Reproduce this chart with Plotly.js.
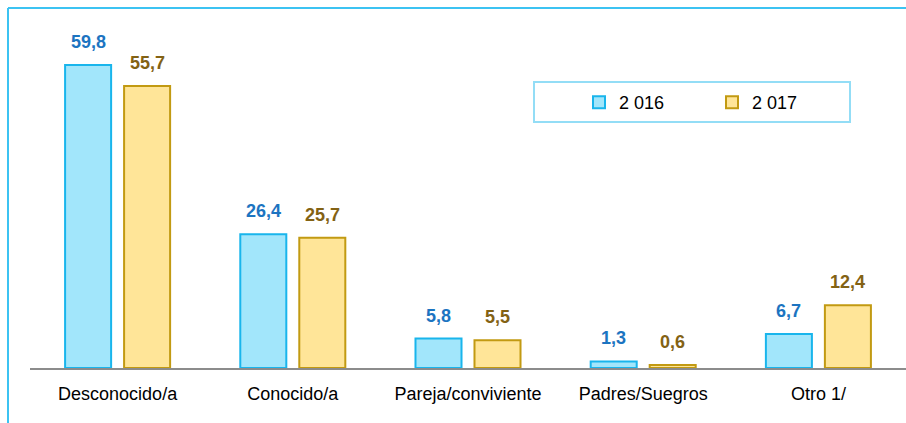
<!DOCTYPE html>
<html>
<head>
<meta charset="utf-8">
<script src="https://cdn.plot.ly/plotly-3.0.1.min.js"></script>
<style>html,body{margin:0;padding:0;background:#fff;}#chart{width:906px;height:423px;}</style>
</head>
<body>
<div id="chart"></div>
<script>
const categories = ["Desconocido/a", "Conocido/a", "Pareja/conviviente", "Padres/Suegros", "Otro 1/"];
const values2016 = [59.8, 26.4, 5.8, 1.3, 6.7];
const values2017 = [55.7, 25.7, 5.5, 0.6, 12.4];
const seriesNames = ["2 016", "2 017"];

const FONT = "'Liberation Sans', Arial, sans-serif";
const W = 906, H = 423;
const M = {l: 30, r: 0, t: 10, b: 55};
const plotW = W - M.l - M.r, plotH = H - M.t - M.b;
const px2x = p => (p - M.l) / plotW;
const px2y = p => (H - M.b - p) / plotH;

const fmt = v => v.toFixed(1).replace('.', ',');

const traces = [
  {type: 'bar', name: seriesNames[0], x: categories, y: values2016,
   marker: {color: '#A2E6FB', line: {color: '#19B5EC', width: 2}}, hoverinfo: 'skip'},
  {type: 'bar', name: seriesNames[1], x: categories, y: values2017,
   marker: {color: '#FFE598', line: {color: '#C29A12', width: 2}}, hoverinfo: 'skip'}
];

const annotations = [];
categories.forEach((c, i) => {
  annotations.push({x: c, y: values2016[i], xref: 'x', yref: 'y', text: '<b>' + fmt(values2016[i]) + '</b>',
    showarrow: false, xanchor: 'center', yanchor: 'bottom', xshift: -29.5, yshift: 11,
    font: {family: FONT, size: 18, color: '#1C74C1'}});
  annotations.push({x: c, y: values2017[i], xref: 'x', yref: 'y', text: '<b>' + fmt(values2017[i]) + '</b>',
    showarrow: false, xanchor: 'center', yanchor: 'bottom', xshift: 29.5, yshift: 11,
    font: {family: FONT, size: 18, color: '#836214'}});
});

const shapes = [
  {type: 'line', xref: 'paper', yref: 'paper', x0: px2x(8), x1: px2x(W + 5), y0: px2y(8), y1: px2y(8),
   line: {color: '#3CC3F2', width: 2}},
  {type: 'line', xref: 'paper', yref: 'paper', x0: px2x(8), x1: px2x(8), y0: px2y(8), y1: px2y(H + 5),
   line: {color: '#3CC3F2', width: 2}},
  {type: 'rect', xref: 'paper', yref: 'paper', x0: px2x(534), x1: px2x(850), y0: px2y(122), y1: px2y(82),
   line: {color: '#93DDF6', width: 2}}
];

const layout = {
  width: W, height: H,
  margin: M,
  paper_bgcolor: '#ffffff', plot_bgcolor: '#ffffff',
  font: {family: FONT, size: 18, color: '#000000'},
  barmode: 'group', bargap: 0.3265, bargroupgap: 0.22,
  showlegend: true,
  legend: {orientation: 'h', x: px2x(579), y: px2y(84), xanchor: 'left', yanchor: 'top',
    bgcolor: 'rgba(0,0,0,0)', borderwidth: 0, entrywidth: 88, entrywidthmode: 'pixels',
    font: {family: FONT, size: 18, color: '#000000'}},
  xaxis: {showgrid: false, zeroline: false, showline: true, linecolor: '#8C8C8C', linewidth: 1.5,
    ticks: '', ticklabelstandoff: 9, tickfont: {family: FONT, size: 18, color: '#000000'}, fixedrange: true},
  yaxis: {range: [0, plotH / 5.065], showgrid: false, zeroline: false, showline: false,
    showticklabels: false, ticks: '', fixedrange: true},
  annotations: annotations,
  shapes: shapes,
  hovermode: false
};

Plotly.newPlot('chart', traces, layout, {displayModeBar: false, staticPlot: true});
</script>
</body>
</html>
